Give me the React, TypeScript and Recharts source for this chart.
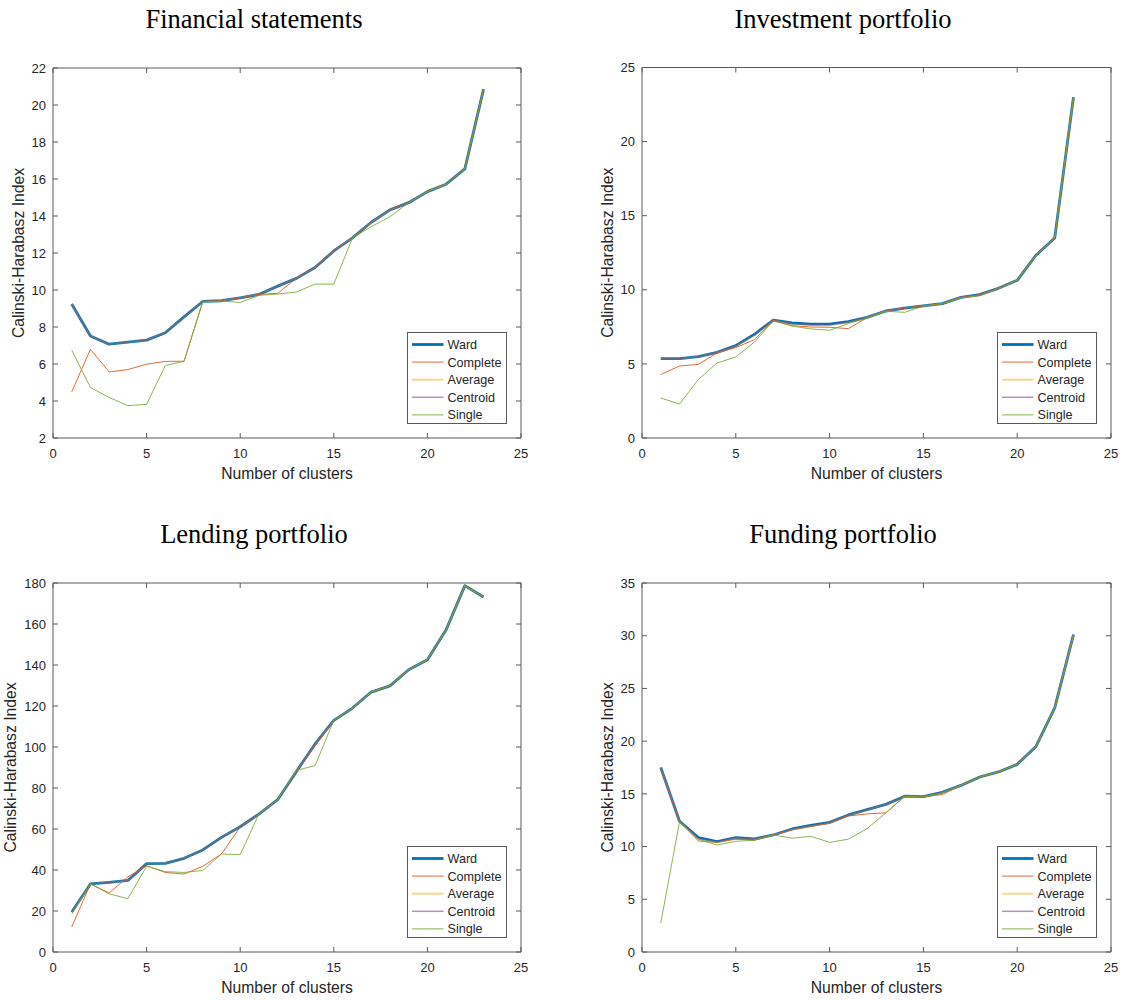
import React from 'react';
import { LineChart, Line, XAxis, YAxis, ReferenceArea } from 'recharts';

// ---------- data ----------
const clusters = [1, 2, 3, 4, 5, 6, 7, 8, 9, 10, 11, 12, 13, 14, 15, 16, 17, 18, 19, 20, 21, 22, 23];
const xTicks = [0, 5, 10, 15, 20, 25];
const seriesNames = ['Ward', 'Complete', 'Average', 'Centroid', 'Single'];

// Financial statements
const fsWard = [9.24, 7.51, 7.07, 7.18, 7.29, 7.69, 8.55, 9.38, 9.42, 9.58, 9.76, 10.21, 10.63, 11.22, 12.11, 12.82, 13.66, 14.33, 14.72, 15.32, 15.72, 16.55, 20.86];
const fsComplete = [4.49, 6.79, 5.57, 5.7, 5.99, 6.14, 6.15, 9.38, 9.42, 9.58, 9.76, 9.82, 10.63, 11.22, 12.11, 12.82, 13.66, 14.33, 14.72, 15.32, 15.72, 16.55, 20.86];
const fsAverage = [9.24, 7.51, 7.07, 7.18, 7.29, 7.69, 8.55, 9.38, 9.42, 9.58, 9.76, 10.21, 10.63, 11.22, 12.11, 12.82, 13.66, 14.33, 14.72, 15.32, 15.72, 16.55, 20.86];
const fsCentroid = [9.24, 7.51, 7.07, 7.18, 7.29, 7.69, 8.55, 9.38, 9.42, 9.58, 9.76, 10.21, 10.63, 11.22, 12.11, 12.82, 13.66, 14.33, 14.72, 15.32, 15.72, 16.55, 20.86];
const fsSingle = [6.75, 4.73, 4.19, 3.75, 3.82, 5.92, 6.15, 9.35, 9.4, 9.33, 9.71, 9.78, 9.89, 10.32, 10.32, 12.82, 13.42, 13.96, 14.72, 15.32, 15.72, 16.55, 20.86];
const fsTicks = [2, 4, 6, 8, 10, 12, 14, 16, 18, 20, 22];

// Investment portfolio
const ipWard = [5.36, 5.36, 5.49, 5.78, 6.23, 7.0, 7.96, 7.76, 7.69, 7.69, 7.85, 8.14, 8.57, 8.77, 8.91, 9.07, 9.49, 9.67, 10.1, 10.64, 12.33, 13.5, 23.0];
const ipComplete = [4.28, 4.86, 4.97, 5.74, 6.1, 6.64, 7.96, 7.58, 7.49, 7.47, 7.38, 8.12, 8.57, 8.77, 8.91, 9.07, 9.49, 9.67, 10.1, 10.64, 12.33, 13.5, 23.0];
const ipAverage = [5.36, 5.36, 5.49, 5.78, 6.2, 6.9, 7.96, 7.68, 7.6, 7.58, 7.8, 8.14, 8.57, 8.77, 8.91, 9.07, 9.49, 9.64, 10.1, 10.64, 12.33, 13.5, 23.0];
const ipCentroid = [5.36, 5.36, 5.49, 5.78, 6.23, 7.0, 7.96, 7.72, 7.65, 7.65, 7.85, 8.14, 8.57, 8.77, 8.91, 9.07, 9.49, 9.67, 10.1, 10.64, 12.33, 13.5, 23.0];
const ipSingle = [2.7, 2.29, 3.94, 5.06, 5.47, 6.48, 7.9, 7.55, 7.36, 7.27, 7.72, 8.1, 8.55, 8.48, 8.9, 9.07, 9.45, 9.6, 10.08, 10.64, 12.33, 13.5, 23.0];
const ipTicks = [0, 5, 10, 15, 20, 25];

// Lending portfolio
const lpWard = [19.5, 33.2, 34.0, 34.9, 43.1, 43.2, 45.7, 49.8, 55.9, 61.1, 67.3, 74.3, 88.0, 101.5, 113.0, 119.0, 126.8, 129.8, 137.7, 142.6, 157.2, 178.7, 173.2];
const lpComplete = [12.2, 33.2, 28.8, 36.6, 42.1, 38.8, 38.0, 41.8, 47.8, 61.0, 67.3, 74.3, 88.0, 100.5, 113.0, 119.0, 126.8, 129.8, 137.7, 142.6, 157.2, 178.7, 173.2];
const lpAverage = [19.5, 33.2, 34.0, 34.9, 43.1, 43.2, 45.7, 49.8, 55.9, 61.1, 67.3, 74.3, 88.0, 101.5, 113.0, 119.0, 126.8, 129.8, 137.7, 142.6, 157.2, 178.7, 173.2];
const lpCentroid = [19.5, 33.2, 34.0, 34.9, 43.1, 43.2, 45.7, 49.8, 55.9, 61.1, 67.3, 74.3, 88.0, 101.5, 113.0, 119.0, 126.8, 129.8, 137.7, 142.6, 157.2, 178.7, 173.2];
const lpSingle = [18.5, 33.2, 28.4, 26.0, 41.8, 39.2, 38.8, 39.8, 47.8, 47.5, 67.3, 74.3, 88.6, 90.9, 113.0, 119.0, 126.8, 129.8, 137.7, 142.6, 157.2, 178.7, 173.2];
const lpTicks = [0, 20, 40, 60, 80, 100, 120, 140, 160, 180];

// Funding portfolio
const fpWard = [17.5, 12.4, 10.85, 10.47, 10.85, 10.72, 11.1, 11.67, 12.0, 12.3, 13.0, 13.5, 14.0, 14.78, 14.73, 15.15, 15.8, 16.6, 17.08, 17.8, 19.5, 23.15, 30.1];
const fpComplete = [17.4, 12.4, 10.53, 10.4, 10.7, 10.6, 11.1, 11.6, 11.9, 12.2, 12.9, 13.1, 13.2, 14.76, 14.73, 14.93, 15.8, 16.6, 17.08, 17.8, 19.5, 23.15, 30.1];
const fpAverage = [17.5, 12.4, 10.7, 10.4, 10.8, 10.7, 11.1, 11.6, 11.95, 12.25, 13.0, 13.45, 14.0, 14.78, 14.73, 15.1, 15.8, 16.6, 17.08, 17.8, 19.5, 23.15, 30.1];
const fpCentroid = [17.5, 12.4, 10.85, 10.47, 10.85, 10.72, 11.1, 11.67, 12.0, 12.3, 13.0, 13.5, 14.0, 14.78, 14.73, 15.15, 15.8, 16.6, 17.08, 17.8, 19.5, 23.15, 30.1];
const fpSingle = [2.75, 12.35, 10.7, 10.15, 10.5, 10.6, 11.1, 10.8, 10.97, 10.4, 10.7, 11.7, 13.2, 14.76, 14.73, 15.1, 15.8, 16.6, 17.08, 17.8, 19.5, 23.15, 30.1];
const fpTicks = [0, 5, 10, 15, 20, 25, 30, 35];

// ---------- styling ----------
const AXIS = '#5a5a5a';
const TEXT = '#262626';
const SANS = '"Liberation Sans", Arial, Helvetica, sans-serif';
const SERIF = '"Liberation Serif", "Times New Roman", serif';

const lineStyles = [
  { key: 'ward', color: '#0072BD', width: 2.8, opacity: 1 },
  { key: 'complete', color: '#D95319', width: 1, opacity: 0.85 },
  { key: 'average', color: '#EDB120', width: 1.8, opacity: 0.35 },
  { key: 'centroid', color: '#7E2F8E', width: 1.3, opacity: 0.3 },
  { key: 'single', color: '#77AC30', width: 1, opacity: 0.85 },
];
const legendStyles = [
  { color: '#0072BD', width: 2.8, opacity: 1 },
  { color: '#D95319', width: 1, opacity: 0.85 },
  { color: '#EDB120', width: 2, opacity: 0.5 },
  { color: '#7E2F8E', width: 1.5, opacity: 0.55 },
  { color: '#77AC30', width: 1, opacity: 0.9 },
];

type Panel = {
  title: string;
  titleX: number;
  left: number;
  top: number;
  right: number;
  bottom: number;
  yDomain: [number, number];
  yTicks: number[];
  yLabelOffset: number;
  series: number[][];
};

const panels: Panel[] = [
  { title: 'Financial statements', titleX: 254, left: 53, top: 68, right: 521, bottom: 438, yDomain: [2, 22], yTicks: fsTicks, yLabelOffset: 18, series: [fsWard, fsComplete, fsAverage, fsCentroid, fsSingle] },
  { title: 'Investment portfolio', titleX: 843, left: 642, top: 67.5, right: 1111, bottom: 438, yDomain: [0, 25], yTicks: ipTicks, yLabelOffset: 18, series: [ipWard, ipComplete, ipAverage, ipCentroid, ipSingle] },
  { title: 'Lending portfolio', titleX: 254, left: 53, top: 583, right: 521, bottom: 952, yDomain: [0, 180], yTicks: lpTicks, yLabelOffset: 10, series: [lpWard, lpComplete, lpAverage, lpCentroid, lpSingle] },
  { title: 'Funding portfolio', titleX: 843, left: 642, top: 583, right: 1111, bottom: 952, yDomain: [0, 35], yTicks: fpTicks, yLabelOffset: 18, series: [fpWard, fpComplete, fpAverage, fpCentroid, fpSingle] },
];

const Y_AXIS_W = 53;
const X_AXIS_H = 62;
const RIGHT_PAD = 14;
const TICK = 5;

function buildRows(series: number[][]) {
  return clusters.map((c, i) => {
    const row: any = { x: c };
    lineStyles.forEach((s, j) => {
      row[s.key] = series[j][i];
    });
    return row;
  });
}

function Legend({ left, top }: { left: number; top: number }) {
  return (
    <div
      style={{
        position: 'absolute',
        left,
        top,
        width: 100,
        height: 92,
        border: `1px solid ${AXIS}`,
        background: '#fff',
        boxSizing: 'border-box',
      }}
    >
      <svg width={100} height={92} style={{ position: 'absolute', left: -1, top: -1 }}>
        {seriesNames.map((n, i) => {
          const s = legendStyles[i];
          const y = 12.5 + i * 17.6;
          return (
            <g key={n}>
              <line x1={5} x2={36.5} y1={y} y2={y} stroke={s.color} strokeWidth={s.width} strokeOpacity={s.opacity} />
              <text x={40.5} y={y} dy="0.35em" fontSize={12.6} fill={TEXT} fontFamily={SANS}>
                {n}
              </text>
            </g>
          );
        })}
      </svg>
    </div>
  );
}

function ChartPanel({ p }: { p: Panel }) {
  const plotW = p.right - p.left;
  const plotH = p.bottom - p.top;
  const chartLeft = p.left - Y_AXIS_W;
  const width = Y_AXIS_W + plotW + RIGHT_PAD;
  const height = p.top + plotH + X_AXIS_H;
  const data = buildRows(p.series);

  const yTick = (props: any) => {
    const { x, y, payload } = props;
    return (
      <g>
        <line x1={x} x2={x + TICK} y1={y} y2={y} stroke={AXIS} />
        <line x1={x + plotW - TICK} x2={x + plotW} y1={y} y2={y} stroke={AXIS} />
        <text x={x - 7} y={y} dy="0.36em" textAnchor="end" fontSize={13} fill={TEXT} fontFamily={SANS}>
          {payload.value}
        </text>
      </g>
    );
  };
  const xTick = (props: any) => {
    const { x, y, payload } = props;
    return (
      <g>
        <line x1={x} x2={x} y1={y} y2={y - TICK} stroke={AXIS} />
        <line x1={x} x2={x} y1={y - plotH} y2={y - plotH + TICK} stroke={AXIS} />
        <text x={x} y={y + 15} dy="0.36em" textAnchor="middle" fontSize={13} fill={TEXT} fontFamily={SANS}>
          {payload.value}
        </text>
      </g>
    );
  };

  const xLabel = (props: any) => {
    const vb = props.viewBox;
    return (
      <text x={vb.x + vb.width / 2} y={vb.y + 35} dy="0.36em" textAnchor="middle" fontSize={15.7} fill={TEXT} fontFamily={SANS}>
        Number of clusters
      </text>
    );
  };
  const yLabel = (props: any) => {
    const vb = props.viewBox;
    const cx = vb.x + p.yLabelOffset;
    const cy = vb.y + vb.height / 2;
    return (
      <text x={cx} y={cy} dy="0.36em" textAnchor="middle" fontSize={15.7} fill={TEXT} fontFamily={SANS} transform={`rotate(-90 ${cx} ${cy})`}>
        Calinski-Harabasz Index
      </text>
    );
  };

  return (
    <div style={{ position: 'absolute', left: chartLeft, top: 0, width, height }}>
      <LineChart width={width} height={height} data={data} margin={{ top: p.top, right: RIGHT_PAD, left: 0, bottom: 0 }}>
        <ReferenceArea x1={0} x2={25} y1={p.yDomain[0]} y2={p.yDomain[1]} fill="none" stroke={AXIS} strokeWidth={1} ifOverflow="visible" />
        <XAxis
          dataKey="x"
          type="number"
          domain={[0, 25]}
          ticks={xTicks}
          height={X_AXIS_H}
          axisLine={false}
          tickLine={false}
          tickSize={0}
          tickMargin={0}
          tick={xTick}
          interval={0}
          label={{ content: xLabel }}
        />
        <YAxis
          type="number"
          domain={p.yDomain}
          ticks={p.yTicks}
          width={Y_AXIS_W}
          axisLine={false}
          tickLine={false}
          tickSize={0}
          tickMargin={0}
          tick={yTick}
          interval={0}
          label={{ content: yLabel }}
        />
        {lineStyles.map((s) => (
          <Line
            key={s.key}
            type="linear"
            dataKey={s.key}
            stroke={s.color}
            strokeWidth={s.width}
            strokeOpacity={s.opacity}
            dot={false}
            activeDot={false}
            isAnimationActive={false}
            strokeLinejoin="round"
          />
        ))}
      </LineChart>
      <Legend left={p.right - chartLeft - 14 - 100} top={p.bottom - 14 - 92} />
    </div>
  );
}

export default function App() {
  return (
    <div style={{ position: 'absolute', left: 0, top: 0, width: 1125, height: 1000, background: '#fff', overflow: 'hidden' }}>
      <svg width={1125} height={1000} style={{ position: 'absolute', left: 0, top: 0 }}>
        {panels.map((p) => (
          <text key={p.title} x={p.titleX} y={p.top - 40} textAnchor="middle" fontSize={26.5} fill="#000" fontFamily={SERIF}>
            {p.title}
          </text>
        ))}
      </svg>
      {panels.map((p) => (
        <ChartPanel key={p.title} p={p} />
      ))}
    </div>
  );
}
